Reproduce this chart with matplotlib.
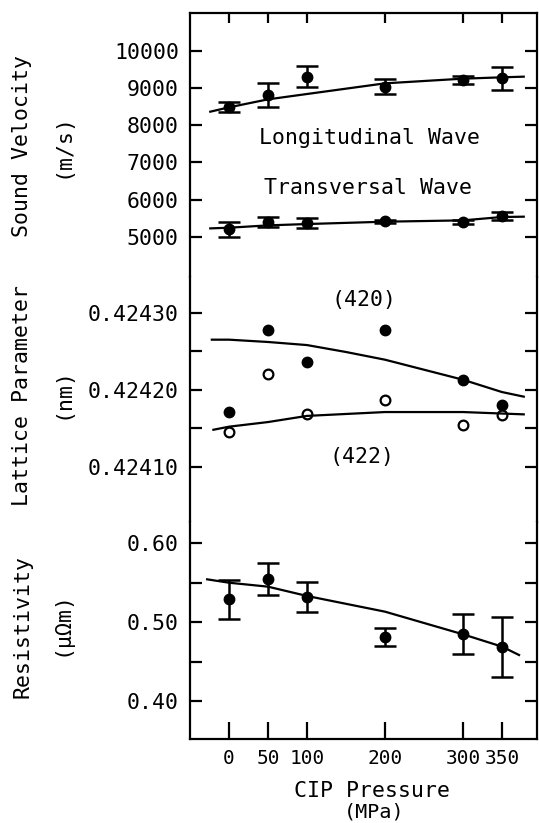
import matplotlib.pyplot as plt
import numpy as np

plt.rcParams['font.family'] = ['DejaVu Sans Mono', 'DejaVu Sans']

# CIP-Druck (MPa)
pressure = [0, 50, 100, 200, 300, 350]

# Schallgeschwindigkeit (m/s)
v_long = [8480, 8815, 9310, 9040, 9220, 9265]
v_long_err = [135, 330, 290, 210, 110, 315]
v_trans = [5205, 5395, 5380, 5410, 5395, 5555]
v_trans_err = [200, 135, 135, 50, 60, 100]

fit_long_x = [-24, 0, 50, 100, 200, 300, 350, 378]
fit_long_y = [8366, 8483, 8698, 8842, 9129, 9255, 9291, 9309]
fit_trans_x = [-24, 0, 50, 100, 200, 300, 350, 378]
fit_trans_y = [5224, 5242, 5305, 5341, 5404, 5440, 5530, 5539]

# Gitterparameter (nm)
lat_420 = [0.424171, 0.424277, 0.424236, 0.424277, 0.424212, 0.424180]
lat_422 = [0.424145, 0.424221, 0.424169, 0.424187, 0.424154, 0.424167]

fit_420_x = [-22, 0, 50, 100, 150, 200, 250, 300, 350, 378]
fit_420_y = [0.424265, 0.424265, 0.424262, 0.424258, 0.424249,
             0.424239, 0.424226, 0.424213, 0.424197, 0.424191]
fit_422_x = [-20, 0, 50, 100, 200, 300, 378]
fit_422_y = [0.424148, 0.424152, 0.424158, 0.424166, 0.424171, 0.424171, 0.424168]

# Widerstand (uOhm m)
res = [0.529, 0.555, 0.5315, 0.481, 0.485, 0.469]
res_err = [0.025, 0.020, 0.019, 0.011, 0.025, 0.038]
fit_res_x = [-28, 0, 50, 100, 200, 300, 350, 372]
fit_res_y = [0.5543, 0.5500, 0.5450, 0.5332, 0.5133, 0.4846, 0.4690, 0.4583]

FS = 15.5
LW = 1.6

fig, (ax1, ax2, ax3) = plt.subplots(3, 1, sharex=True, figsize=(5.39, 8.23), dpi=100,
                                    gridspec_kw={'height_ratios': [264, 245, 217], 'hspace': 0})
fig.subplots_adjust(left=190/539, right=537/539, top=1-13/823, bottom=1-739/823)

eb = dict(fmt='o', color='black', ms=7.5, capsize=8, elinewidth=1.8, capthick=1.8)

# oben: Schallgeschwindigkeit
ax1.errorbar(pressure, v_long, yerr=v_long_err, **eb)
ax1.errorbar(pressure, v_trans, yerr=v_trans_err, **eb)
ax1.plot(fit_long_x, fit_long_y, color='black', lw=LW)
ax1.plot(fit_trans_x, fit_trans_y, color='black', lw=LW)
ax1.text(180, 7650, "Longitudinal Wave", ha='center', va='center', fontsize=FS)
ax1.text(178, 6300, "Transversal Wave", ha='center', va='center', fontsize=FS)
ax1.set_ylim(3915, 11023)
ax1.set_yticks([5000, 6000, 7000, 8000, 9000, 10000])

# mitte: Gitterparameter
ax2.plot(pressure, lat_420, 'o', color='black', ms=7.5)
ax2.plot(pressure, lat_422, 'o', mfc='white', mec='black', mew=1.6, ms=7)
ax2.plot(fit_420_x, fit_420_y, color='black', lw=LW)
ax2.plot(fit_422_x, fit_422_y, color='black', lw=LW)
ax2.text(173, 0.424316, "(420)", ha='center', va='center', fontsize=FS)
ax2.text(171, 0.424113, "(422)", ha='center', va='center', fontsize=FS)
ax2.set_ylim(0.4240282, 0.4243464)
ax2.set_yticks([0.42410, 0.42415, 0.42420, 0.42425, 0.42430])
ax2.set_yticklabels(["0.42410", "", "0.42420", "", "0.42430"])

# unten: Widerstand
ax3.errorbar(pressure, res, yerr=res_err, **eb)
ax3.plot(fit_res_x, fit_res_y, color='black', lw=LW)
ax3.set_ylim(0.3518, 0.627)
ax3.set_yticks([0.40, 0.45, 0.50, 0.55, 0.60])
ax3.set_yticklabels(["0.40", "", "0.50", "", "0.60"])

ax3.set_xlim(-50, 395)
ax3.set_xticks(pressure)
ax3.set_xticklabels(["0", "50", "100", "200", "300", "350"])

for ax in (ax1, ax2, ax3):
    for s in ax.spines.values():
        s.set_linewidth(LW)
    ax.tick_params(axis='y', which='both', direction='in', length=8.5, width=1.6,
                   left=True, right=True, labelsize=FS, pad=8)
    ax.tick_params(axis='x', which='both', bottom=False, top=False, labelbottom=False)

ax1.spines['bottom'].set_visible(False)
ax2.spines['top'].set_visible(False)
ax2.spines['bottom'].set_visible(False)
ax3.spines['top'].set_visible(False)
ax1.tick_params(axis='x', top=True, direction='in', length=7.5, width=1.6)
ax3.tick_params(axis='x', bottom=True, direction='in', length=12, width=1.6,
                labelbottom=True, labelsize=14, pad=7)

# Achsentitel
fig.text(22/539, 1-146/823, "Sound Velocity", rotation=90, ha='center', va='center', fontsize=FS)
fig.text(63/539, 1-145/823, "(m/s)", rotation=90, ha='center', va='center', fontsize=FS)
fig.text(22/539, 1-396/823, "Lattice Parameter", rotation=90, ha='center', va='center', fontsize=FS)
fig.text(62/539, 1-393/823, "(nm)", rotation=90, ha='center', va='center', fontsize=FS)
fig.text(23/539, 1-626/823, "Resistivity", rotation=90, ha='center', va='center', fontsize=FS)
fig.text(62/539, 1-623/823, "(\u03bc\u03a9m)", rotation=90, ha='center', va='center', fontsize=FS)
fig.text(372/539, 1-791/823, "CIP Pressure", ha='center', va='center', fontsize=FS)
fig.text(374/539, 1-812/823, "(MPa)", ha='center', va='center', fontsize=14.5)

fig.savefig("out.png", dpi=100)
